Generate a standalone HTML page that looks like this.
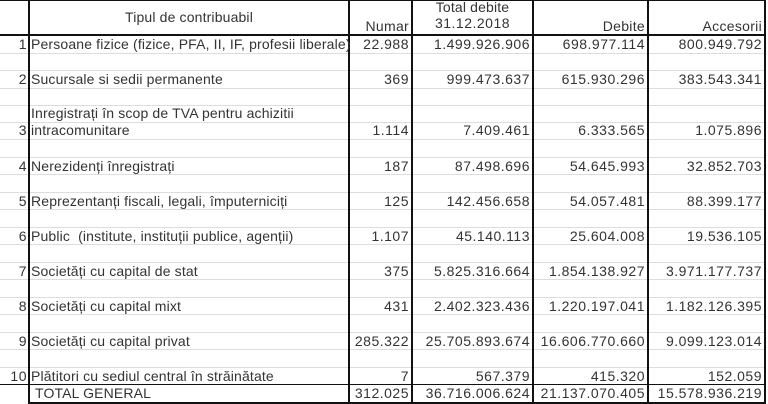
<!DOCTYPE html>
<html><head><meta charset="utf-8"><style>
html,body{margin:0;padding:0;background:#fff;}
#c{position:relative;width:768px;height:404px;overflow:hidden;font-family:"Liberation Sans",Arial,sans-serif;font-size:14px;color:#333;letter-spacing:0.15px;}
.h{position:absolute;left:0;width:766px;height:1px;background:#ddd;}
.b{position:absolute;background:#111;}
.t{position:absolute;white-space:nowrap;line-height:17px;height:17px;}
.r{text-align:right;letter-spacing:0.5px;}
</style></head><body><div id="c">
<div class="h" style="top:53px"></div><div class="h" style="top:70px"></div><div class="h" style="top:88px"></div><div class="h" style="top:105px"></div><div class="h" style="top:122px"></div><div class="h" style="top:139px"></div><div class="h" style="top:157px"></div><div class="h" style="top:174px"></div><div class="h" style="top:192px"></div><div class="h" style="top:209px"></div><div class="h" style="top:227px"></div><div class="h" style="top:244px"></div><div class="h" style="top:262px"></div><div class="h" style="top:279px"></div><div class="h" style="top:297px"></div><div class="h" style="top:314px"></div><div class="h" style="top:332px"></div><div class="h" style="top:349px"></div><div class="h" style="top:367px"></div>
<div class="b" style="left:28px;top:0;width:2px;height:403px"></div>
<div class="b" style="left:348px;top:0;width:2px;height:403px"></div>
<div class="b" style="left:411px;top:0;width:2px;height:403px"></div>
<div class="b" style="left:532px;top:0;width:2px;height:403px"></div>
<div class="b" style="left:647px;top:0;width:2px;height:403px"></div>
<div class="b" style="left:764px;top:0;width:2px;height:403px"></div>
<div class="b" style="left:0;top:0;width:766px;height:1px"></div>
<div class="b" style="left:0;top:34px;width:766px;height:2px"></div>
<div class="b" style="left:0;top:384px;width:766px;height:1px"></div>
<div class="b" style="left:28px;top:402px;width:738px;height:2px"></div>
<div class="t" style="left:29px;width:320px;top:9px;text-align:center">Tipul de contribuabil</div>
<div class="t r" style="left:349px;width:60px;top:18px;letter-spacing:0.3px">Numar</div>
<div class="t" style="left:412px;width:121px;top:-1px;text-align:center">Total debite</div>
<div class="t" style="left:412px;width:121px;top:15px;text-align:center;letter-spacing:0.5px">31.12.2018</div>
<div class="t r" style="left:533px;width:112px;top:18px;letter-spacing:0.3px">Debite</div>
<div class="t r" style="left:648px;width:114px;top:18px;letter-spacing:0.3px">Accesorii</div>
<div class="t r" style="left:0;width:27px;top:36px">1</div><div class="t" style="left:31px;top:36px">Persoane fizice (fizice, PFA, II, IF, profesii liberale)</div><div class="t r" style="left:349px;width:60px;top:36px">22.988</div><div class="t r" style="left:412px;width:118px;top:36px">1.499.926.906</div><div class="t r" style="left:533px;width:112px;top:36px">698.977.114</div><div class="t r" style="left:648px;width:114px;top:36px">800.949.792</div>
<div class="t r" style="left:0;width:27px;top:71px">2</div><div class="t" style="left:31px;top:71px">Sucursale si sedii permanente</div><div class="t r" style="left:349px;width:60px;top:71px">369</div><div class="t r" style="left:412px;width:118px;top:71px">999.473.637</div><div class="t r" style="left:533px;width:112px;top:71px">615.930.296</div><div class="t r" style="left:648px;width:114px;top:71px">383.543.341</div>
<div class="t" style="left:31px;top:105px">Inregistrați în scop de TVA pentru achizitii</div>
<div class="t r" style="left:0;width:27px;top:122px">3</div><div class="t" style="left:31px;top:122px">intracomunitare</div><div class="t r" style="left:349px;width:60px;top:122px">1.114</div><div class="t r" style="left:412px;width:118px;top:122px">7.409.461</div><div class="t r" style="left:533px;width:112px;top:122px">6.333.565</div><div class="t r" style="left:648px;width:114px;top:122px">1.075.896</div>
<div class="t r" style="left:0;width:27px;top:158px">4</div><div class="t" style="left:31px;top:158px">Nerezidenți înregistrați</div><div class="t r" style="left:349px;width:60px;top:158px">187</div><div class="t r" style="left:412px;width:118px;top:158px">87.498.696</div><div class="t r" style="left:533px;width:112px;top:158px">54.645.993</div><div class="t r" style="left:648px;width:114px;top:158px">32.852.703</div>
<div class="t r" style="left:0;width:27px;top:193px">5</div><div class="t" style="left:31px;top:193px">Reprezentanți fiscali, legali, împuterniciți</div><div class="t r" style="left:349px;width:60px;top:193px">125</div><div class="t r" style="left:412px;width:118px;top:193px">142.456.658</div><div class="t r" style="left:533px;width:112px;top:193px">54.057.481</div><div class="t r" style="left:648px;width:114px;top:193px">88.399.177</div>
<div class="t r" style="left:0;width:27px;top:228px">6</div><div class="t" style="left:31px;top:228px">Public&nbsp; (institute, instituții publice, agenții)</div><div class="t r" style="left:349px;width:60px;top:228px">1.107</div><div class="t r" style="left:412px;width:118px;top:228px">45.140.113</div><div class="t r" style="left:533px;width:112px;top:228px">25.604.008</div><div class="t r" style="left:648px;width:114px;top:228px">19.536.105</div>
<div class="t r" style="left:0;width:27px;top:263px">7</div><div class="t" style="left:31px;top:263px">Societăți cu capital de stat</div><div class="t r" style="left:349px;width:60px;top:263px">375</div><div class="t r" style="left:412px;width:118px;top:263px">5.825.316.664</div><div class="t r" style="left:533px;width:112px;top:263px">1.854.138.927</div><div class="t r" style="left:648px;width:114px;top:263px">3.971.177.737</div>
<div class="t r" style="left:0;width:27px;top:298px">8</div><div class="t" style="left:31px;top:298px">Societăți cu capital mixt</div><div class="t r" style="left:349px;width:60px;top:298px">431</div><div class="t r" style="left:412px;width:118px;top:298px">2.402.323.436</div><div class="t r" style="left:533px;width:112px;top:298px">1.220.197.041</div><div class="t r" style="left:648px;width:114px;top:298px">1.182.126.395</div>
<div class="t r" style="left:0;width:27px;top:333px">9</div><div class="t" style="left:31px;top:333px">Societăți cu capital privat</div><div class="t r" style="left:349px;width:60px;top:333px">285.322</div><div class="t r" style="left:412px;width:118px;top:333px">25.705.893.674</div><div class="t r" style="left:533px;width:112px;top:333px">16.606.770.660</div><div class="t r" style="left:648px;width:114px;top:333px">9.099.123.014</div>
<div class="t r" style="left:0;width:27px;top:368px">10</div><div class="t" style="left:31px;top:368px">Plătitori cu sediul central în străinătate</div><div class="t r" style="left:349px;width:60px;top:368px">7</div><div class="t r" style="left:412px;width:118px;top:368px">567.379</div><div class="t r" style="left:533px;width:112px;top:368px">415.320</div><div class="t r" style="left:648px;width:114px;top:368px">152.059</div>
<div class="t" style="left:35px;top:385px">TOTAL GENERAL</div><div class="t r" style="left:349px;width:60px;top:385px">312.025</div><div class="t r" style="left:412px;width:118px;top:385px">36.716.006.624</div><div class="t r" style="left:533px;width:112px;top:385px">21.137.070.405</div><div class="t r" style="left:648px;width:114px;top:385px">15.578.936.219</div>
</div></body></html>
